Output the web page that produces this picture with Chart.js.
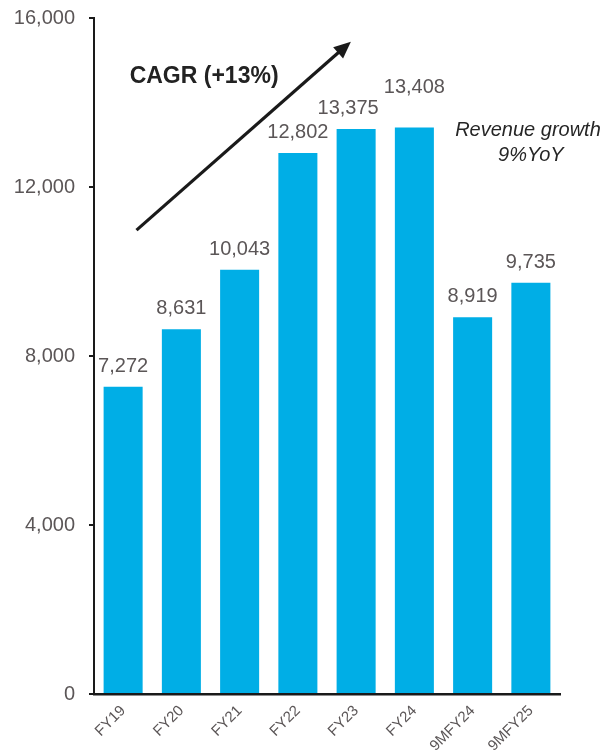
<!DOCTYPE html>
<html>
<head>
<meta charset="utf-8">
<script src="https://cdn.jsdelivr.net/npm/chart.js@4.4.1/dist/chart.umd.min.js"></script>
<style>
  html, body { margin: 0; padding: 0; background: #ffffff; }
  #wrap { width: 611px; height: 755px; position: relative; }
</style>
</head>
<body>
<div id="wrap"><canvas id="revenueChart" width="611" height="755"></canvas></div>
<script>
// Revenue by fiscal period
const categories = ['FY19', 'FY20', 'FY21', 'FY22', 'FY23', 'FY24', '9MFY24', '9MFY25'];
const revenue = [7272, 8631, 10043, 12802, 13375, 13408, 8919, 9735];
const yTicks = [0, 4000, 8000, 12000, 16000];
const cagrLabel = 'CAGR (+13%)';
const growthNote = ['Revenue growth', '9%YoY'];

const FONT = '"Liberation Sans", Arial, Helvetica, sans-serif';
const GREY = '#5b5657';
const INK = '#1a1a1a';
const BAR = '#00AEE6';

const fmt = v => v.toLocaleString('en-US');

// Value labels above bars, with small nudges where neighbours crowd each other
const labelNudge = { 4: { dx: -8, dy: 0 }, 5: { dx: 0, dy: -20 } };

const overlayPlugin = {
  id: 'overlay',
  afterDatasetsDraw(chart) {
    const { ctx, scales } = chart;
    const xs = scales.x, ys = scales.y;
    const meta = chart.getDatasetMeta(0);

    ctx.save();
    ctx.font = '20px ' + FONT;
    ctx.fillStyle = GREY;
    ctx.textAlign = 'center';
    ctx.textBaseline = 'alphabetic';
    meta.data.forEach((bar, i) => {
      const n = labelNudge[i] || { dx: 0, dy: 0 };
      ctx.fillText(fmt(revenue[i]), bar.x + n.dx, bar.y - 15 + n.dy);
    });

    // Growth arrow, placed in value space
    const x0 = xs.getPixelForValue(0.23), y0 = ys.getPixelForValue(10980);
    const x1 = xs.getPixelForValue(3.91), y1 = ys.getPixelForValue(15440);
    const ang = Math.atan2(y1 - y0, x1 - x0);
    const headLen = 17, headHalf = 7.5;
    const bx = x1 - headLen * Math.cos(ang), by = y1 - headLen * Math.sin(ang);
    ctx.strokeStyle = INK;
    ctx.lineWidth = 3.2;
    ctx.lineCap = 'butt';
    ctx.beginPath();
    ctx.moveTo(x0, y0);
    ctx.lineTo(bx + 2 * Math.cos(ang), by + 2 * Math.sin(ang));
    ctx.stroke();
    ctx.fillStyle = INK;
    ctx.beginPath();
    ctx.moveTo(x1, y1);
    ctx.lineTo(bx + headHalf * Math.sin(ang), by - headHalf * Math.cos(ang));
    ctx.lineTo(bx - headHalf * Math.sin(ang), by + headHalf * Math.cos(ang));
    ctx.closePath();
    ctx.fill();

    // CAGR caption
    ctx.font = 'bold 23px ' + FONT;
    ctx.fillStyle = '#222222';
    ctx.textAlign = 'center';
    ctx.textBaseline = 'middle';
    ctx.fillText(cagrLabel, xs.getPixelForValue(1.39), ys.getPixelForValue(14604));

    // Growth note
    ctx.font = 'italic 20px ' + FONT;
    ctx.fillStyle = '#262626';
    ctx.fillText(growthNote[0], xs.getPixelForValue(6.95), ys.getPixelForValue(13349));
    ctx.fillText(growthNote[1], xs.getPixelForValue(7.0), ys.getPixelForValue(12758));
    ctx.restore();
  }
};

new Chart(document.getElementById('revenueChart'), {
  type: 'bar',
  data: {
    labels: categories,
    datasets: [{
      data: revenue,
      backgroundColor: BAR,
      borderWidth: 0,
      barPercentage: 0.67,
      categoryPercentage: 1.0
    }]
  },
  options: {
    responsive: false,
    animation: false,
    devicePixelRatio: 1,
    layout: { padding: { top: 18, right: 51, left: 0, bottom: 0 } },
    plugins: { legend: { display: false }, tooltip: { enabled: false } },
    scales: {
      x: {
        afterFit(scale) { scale.height = 61; },
        grid: { display: false, drawTicks: false },
        border: { display: true, color: INK, width: 2.5 },
        ticks: {
          color: GREY,
          font: { family: FONT, size: 15 },
          minRotation: 45,
          maxRotation: 45,
          padding: 8,
          autoSkip: false
        }
      },
      y: {
        min: 0,
        max: 16000,
        afterFit(scale) {
          scale.width = 94;
          scale.paddingTop = 0;
          scale.paddingBottom = 0;
        },
        afterBuildTicks(scale) { scale.ticks = yTicks.map(v => ({ value: v })); },
        grid: {
          display: true,
          drawOnChartArea: false,
          drawTicks: true,
          tickLength: 5,
          color: INK,
          lineWidth: 2
        },
        border: { display: true, color: INK, width: 2 },
        ticks: {
          color: GREY,
          font: { family: FONT, size: 20 },
          padding: 14,
          callback: v => fmt(v)
        }
      }
    }
  },
  plugins: [overlayPlugin]
});
</script>
</body>
</html>
